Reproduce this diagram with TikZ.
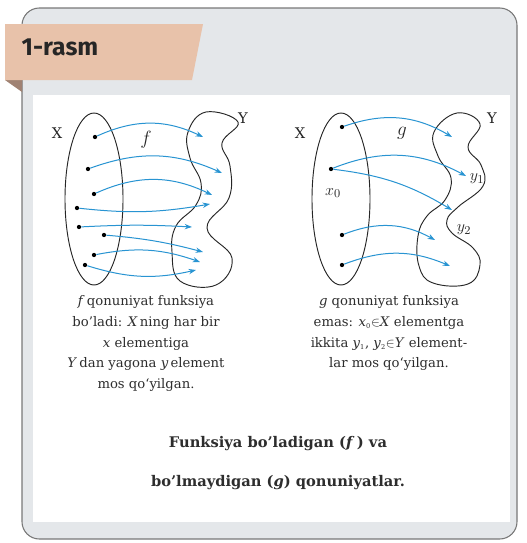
\documentclass[tikz,border=0pt]{standalone}
\usepackage{fontspec}
\setmainfont{DejaVu Serif}
\newfontfamily\tabfont{Fira Sans}
\usetikzlibrary{arrows.meta, positioning, shapes.geometric, calc}

\definecolor{framegray}{RGB}{228,231,234}
\definecolor{frameline}{RGB}{120,120,120}
\definecolor{tabpeach}{RGB}{232,194,170}
\definecolor{tabfold}{RGB}{160,130,115}
\definecolor{mapblue}{RGB}{40,148,210}
\definecolor{textgray}{RGB}{45,45,45}

\begin{document}
\begin{tikzpicture}[
    x=0.75pt, y=-0.75pt,
    dot/.style={circle, fill=black, inner sep=0pt, minimum size=3.2pt},
    maparrow/.style={-{Stealth[length=5.5pt, width=4pt]}, draw=mapblue, line width=0.75pt},
    setbox/.style={ellipse, draw=black!85, line width=0.7pt, minimum width=43.5pt, minimum height=129pt, inner sep=0pt},
    setline/.style={draw=black!85, line width=0.7pt},
    setlabel/.style={font=\fontsize{11}{11}\selectfont, text=black!85},
    caption/.style={align=center, font=\fontsize{9.9}{15.5}\selectfont, text=textgray},
]
\useasboundingbox (0,0) rectangle (527,543);

%% Frame, white panel and tab
\draw[frameline, fill=framegray, line width=0.8pt, rounded corners=13pt] (22,8) rectangle (517,539);
\fill[white] (33,95) rectangle (510,522);
\fill[tabfold] (5,80) -- (22,80) -- (22,92) -- cycle;
\fill[tabpeach] (5,24) -- (203,24) -- (192,80) -- (5,80) -- cycle;
\node[anchor=west, font=\tabfont\bfseries\fontsize{18.5}{18.5}\selectfont, text=black!85] (title) at (17,47) {1-rasm};

%% Left picture: f
\node[setbox] (Xf) at (94,199) {};
\draw[setline] plot[smooth cycle, tension=0.7] coordinates {
    (206,112) (238,122) (222,143) (230,166) (229,198) (207,228)
    (232,258) (216,285) (180,281) (172,252) (176,226) (196,205)
    (201,183) (190,158) (188,132)};
\node[setlabel] (Xfl) at (57,133) {X};
\node[setlabel] (Yfl) at (243,118) {Y};
\node[setlabel, font=\fontsize{14}{14}\selectfont] (fl) at (146,140) {$f$};

\foreach \n/\px/\py in {1/95/137, 2/88/169, 3/94/194, 4/77/208,
                        5/79/227, 6/104/235, 7/94/255, 8/85/265}
    \node[dot] (fa\n) at (\px,\py) {};
\foreach \n/\px/\py in {1/203/137, 2/222/173, 3/212/195, 4/210/204,
                        5/192/227, 6/203/252, 7/200/262, 8/196/270}
    \coordinate (fb\n) at (\px,\py);

\foreach \n/\b in {1/25, 2/22, 3/25, 5/3, 6/5, 7/15}
    \draw[maparrow] (fa\n) to[bend left=\b] (fb\n);
\foreach \n/\b in {4/8, 8/15}
    \draw[maparrow] (fa\n) to[bend right=\b] (fb\n);

%% Right picture: g
\node[setbox] (Xg) at (341,199) {};
\draw[setline] plot[smooth cycle, tension=0.7] coordinates {
    (457,113) (480,124) (468,147) (481,165) (483,186) (458,207)
    (447,220) (452,233) (473,248) (480,265) (468,284) (433,283)
    (419,266) (418,236) (427,216) (445,200) (451,178) (438,156)
    (434,132)};
\node[setlabel] (Xgl) at (300,133) {X};
\node[setlabel] (Ygl) at (492,118) {Y};
\node[setlabel, font=\fontsize{14}{14}\selectfont] (gl) at (402,133) {$g$};
\node[setlabel, font=\fontsize{13}{13}\selectfont] (x0l) at (333,193) {$x_0$};
\node[setlabel, font=\fontsize{13}{13}\selectfont] (y1l) at (477,179) {$y_1$};
\node[setlabel, font=\fontsize{13}{13}\selectfont] (y2l) at (464,230) {$y_2$};

\foreach \n/\px/\py in {1/342/127, 2/331/169, 3/342/235, 4/342/265}
    \node[dot] (ga\n) at (\px,\py) {};
\foreach \n/\px/\py in {1/452/137, 2/466/176, 3/452/210, 4/435/240, 5/450/266}
    \coordinate (gb\n) at (\px,\py);

\foreach \from/\to/\b in {ga1/gb1/25, ga2/gb2/25, ga2/gb3/12, ga3/gb4/25, ga4/gb5/22}
    \draw[maparrow] (\from) to[bend left=\b] (\to);

%% Texts
\node[caption, anchor=north] (textf) at (146,291) {%
    \textit{f}\,qonuniyat funksiya\\
    bo’ladi: \textit{X}\,ning har bir\\
    \textit{x} elementiga\\
    \textit{Y}\,dan yagona \textit{y}\,element\\
    mos qo‘yilgan.};
\node[caption, anchor=north] (textg) at (389,291) {%
    \textit{g} qonuniyat funksiya\\
    emas: \textit{x}\textsubscript{\tiny 0}$\in$\textit{X} elementga\\
    ikkita \textit{y}\textsubscript{\tiny 1}, \textit{y}\textsubscript{\tiny 2}$\in$\textit{Y} element-\\
    lar mos qo‘yilgan.};
\node[caption, font=\bfseries\fontsize{11}{29}\selectfont] (title2) at (278,463) {%
    Funksiya bo’ladigan (\textit{f}\,) va\\
    bo’lmaydigan (\textit{g}) qonuniyatlar.};

\end{tikzpicture}
\end{document}
